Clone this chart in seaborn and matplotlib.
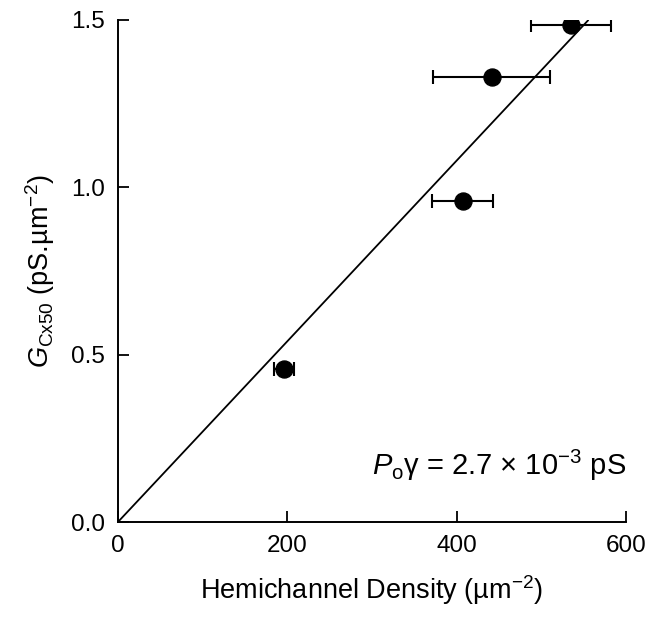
import numpy as np
import pandas as pd
import seaborn as sns
import matplotlib.pyplot as plt

# measured points
density = [196, 407, 441, 535]
density_err = [12, 36, 69, 47]
g_cx50 = [0.457, 0.96, 1.33, 1.485]

# linear fit through origin, G = Po*gamma * density
po_gamma = 2.7e-3
fit_x = np.array([0, 555])

sns.set_style('ticks')
plt.rcParams['font.family'] = ['Liberation Sans', 'DejaVu Sans']
plt.rcParams['mathtext.fontset'] = 'custom'
plt.rcParams['mathtext.rm'] = 'Liberation Sans'
plt.rcParams['mathtext.it'] = 'Liberation Sans:italic'
plt.rcParams['text.color'] = 'black'
plt.rcParams['axes.labelcolor'] = 'black'
plt.rcParams['xtick.color'] = 'black'
plt.rcParams['ytick.color'] = 'black'
plt.rcParams['axes.edgecolor'] = 'black'

df = pd.DataFrame({'density': density, 'err': density_err, 'G': g_cx50})

fig = plt.figure(figsize=(6.47, 6.18), dpi=100)
ax = fig.add_axes([0.182, 0.155, 0.786, 0.813])

sns.lineplot(x=fit_x, y=po_gamma * fit_x, color='black', linewidth=1.3, ax=ax)
ax.errorbar(df['density'], df['G'], xerr=df['err'], fmt='none', ecolor='black',
            elinewidth=1.5, capsize=5, capthick=1.5)
sns.scatterplot(data=df, x='density', y='G', color='black', s=150,
                edgecolor='black', zorder=5, ax=ax)

ax.set_xlim(0, 600)
ax.set_ylim(0, 1.5)
ax.set_xticks([0, 200, 400, 600])
ax.set_yticks([0.0, 0.5, 1.0, 1.5])
ax.set_yticklabels(['0.0', '0.5', '1.0', '1.5'])
ax.tick_params(direction='in', length=8, width=1.3, labelsize=17.5, pad=9)
for s in ['left', 'bottom']:
    ax.spines[s].set_linewidth(1.4)
sns.despine(ax=ax)

ax.set_xlabel('Hemichannel Density (µm$^{-2}$)', fontsize=19.5, labelpad=12)
ax.set_ylabel('$G_\\mathrm{Cx50}$ (pS.µm$^{-2}$)', fontsize=19.5, labelpad=10)

ax.text(300, 0.17, '$P_\\mathrm{o}$γ = 2.7 × 10$^{-3}$ pS', fontsize=21,
        va='center', ha='left')

fig.savefig('out.png', dpi=100)
